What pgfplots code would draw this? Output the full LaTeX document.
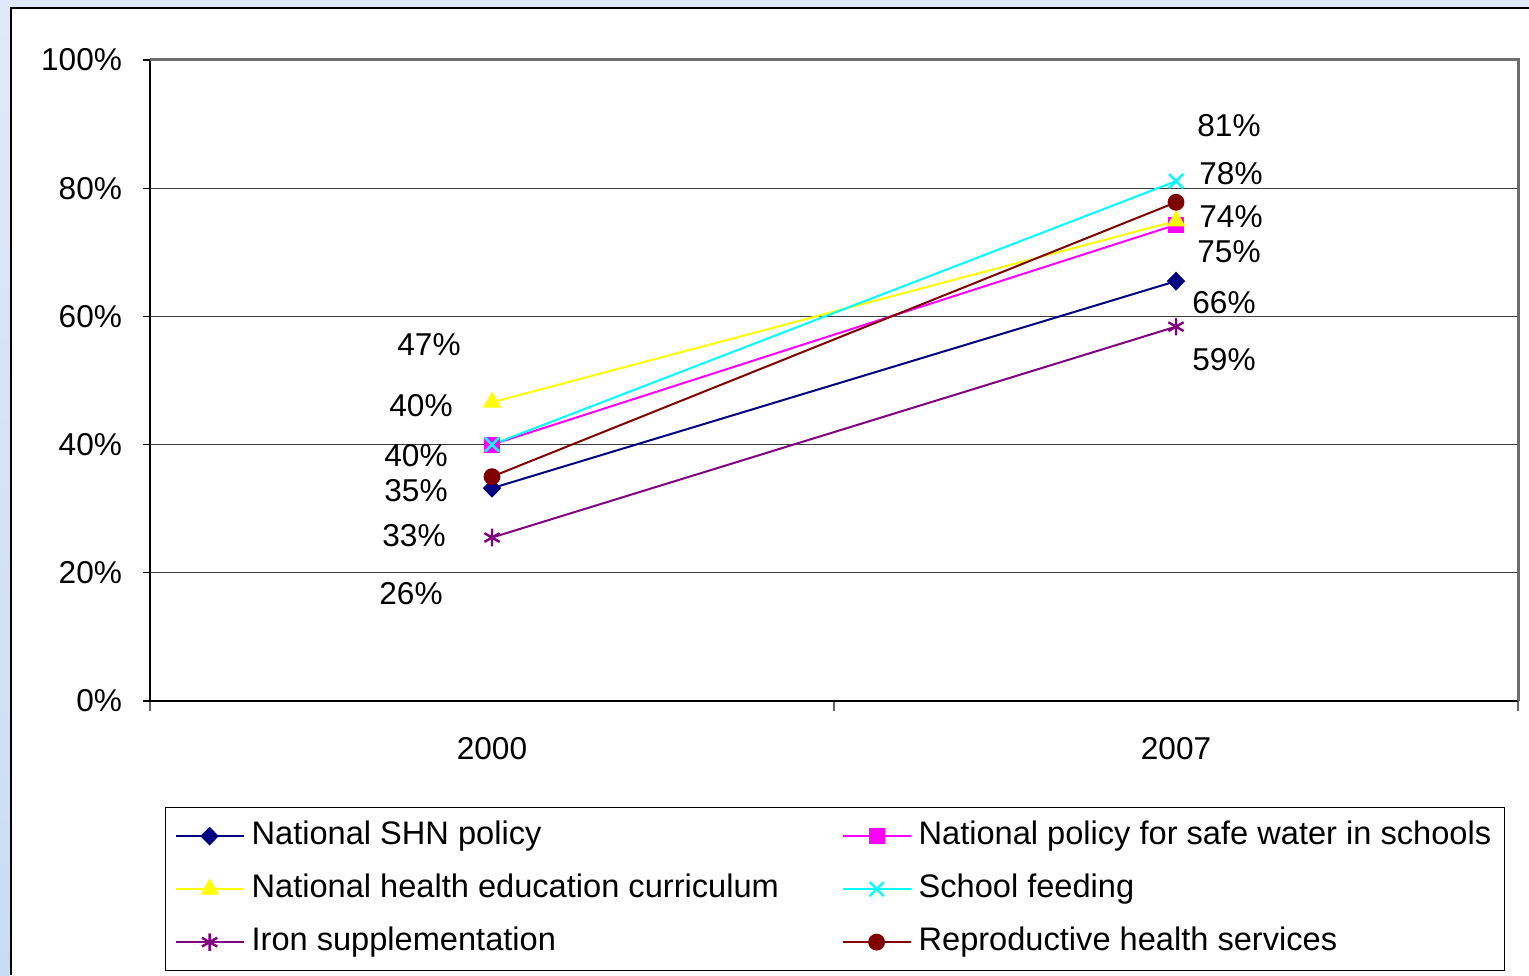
\documentclass[border=0pt]{standalone}
\usepackage{pgfplots}
\pgfplotsset{compat=1.18}
\usepackage{fontspec}
\setmainfont{Liberation Sans}
\definecolor{slidetop}{HTML}{DFE9F9}
\definecolor{slideleft}{HTML}{C9DCF6}
\definecolor{cnavy}{HTML}{000080}
\definecolor{cmag}{HTML}{FF00FF}
\definecolor{cyel}{HTML}{FFFF00}
\definecolor{ccyan}{HTML}{00FFFF}
\definecolor{cpurp}{HTML}{800080}
\definecolor{cdred}{HTML}{800000}
\newcommand{\lt}[1]{\hspace*{1.5pt}\makebox[293pt][l]{#1}}
\begin{document}
\begin{tikzpicture}
\fill[slidetop] (0,0) rectangle (764.5pt,487.5pt);
\shade[top color=slidetop, bottom color=slideleft] (0,0) rectangle (5pt,487.5pt);
\fill[white] (5pt,0) rectangle (764.5pt,484pt);
\draw[black, line width=1pt] (5.5pt,0) -- (5.5pt,483.7pt) -- (764.5pt,483.7pt);
\begin{axis}[
  at={(75pt,137pt)}, anchor=south west,
  scale only axis, width=684pt, height=320.5pt,
  xmin=-0.5, xmax=1.5, ymin=0, ymax=100,
  clip=false,
  axis x line*=bottom, axis y line*=left,
  axis line style={black, line width=0.8pt, -},
  xtick={0,1}, xticklabels={2000,2007},
  major x tick style={draw=none},
  minor xtick={-0.5,0.5,1.5},
  minor x tick style={gray!80!black, line width=0.8pt},
  minor tick length=5pt,
  ytick={0,20,40,60,80,100},
  yticklabels={0\%,20\%,40\%,60\%,80\%,100\%},
  tick align=outside, major tick length=3.5pt,
  ytick style={black, line width=0.6pt},
  ymajorgrids, major grid style={gray!50!black, line width=0.6pt},
  tick label style={font=\fontsize{15.8}{18}\selectfont},
  xticklabel style={yshift=-11pt},
  yticklabel style={xshift=-7pt},
  legend columns=2,
  legend cell align=left,
  legend style={at={(axis description cs:0.01096,-0.1654)}, anchor=north west,
    draw=black, line width=0.6pt, inner xsep=4.5pt, inner ysep=6.75pt,
    font=\fontsize{16.3}{18}\selectfont,
    nodes={inner xsep=2pt, inner ysep=0pt, text height=11.5pt, text depth=3.5pt},
    row sep=11.5pt, column sep=0pt},
  legend image code/.code={\draw[mark repeat=2,mark phase=2] plot coordinates {(0pt,0pt) (17pt,0pt) (34pt,0pt)};},
]
\addplot[cnavy, line width=1pt, mark=diamond*, mark size=4pt, mark options={solid, fill=cnavy, xscale=1.3}] coordinates {(0,33.2) (1,65.5)};
\addlegendentry{\lt{National SHN policy}}
\addplot[cmag, line width=1pt, mark=square*, mark size=3.5pt, mark options={solid, fill=cmag}] coordinates {(0,40) (1,74.3)};
\addlegendentry{\hspace*{1.5pt}National policy for safe water in schools}
\addplot[cyel, line width=1pt, mark=triangle*, mark size=4.4pt, mark options={solid, fill=cyel}] coordinates {(0,46.6) (1,74.9)};
\addlegendentry{\lt{National health education curriculum}}
\addplot[ccyan, line width=1pt, mark=x, mark size=5pt, mark options={solid, line width=1.2pt}] coordinates {(0,40) (1,81.1)};
\addlegendentry{\hspace*{1.5pt}School feeding}
\addplot[cpurp, line width=1pt, mark=asterisk, mark size=4.4pt, mark options={solid, line width=1.2pt}] coordinates {(0,25.5) (1,58.4)};
\addlegendentry{\lt{Iron supplementation}}
\addplot[cdred, line width=1pt, mark=*, mark size=3.7pt, mark options={solid, fill=cdred}] coordinates {(0,35) (1,77.8)};
\addlegendentry{\hspace*{1.5pt}Reproductive health services}
\draw[gray!85!black, line width=1.5pt] (rel axis cs:0,1) -- (rel axis cs:1,1) -- (rel axis cs:1,0);
\begin{scope}[every node/.style={font=\fontsize{15.8}{18}\selectfont, inner sep=0pt}]
\node at (axis cs:-0.0921,55.54) {47\%};
\node at (axis cs:-0.1038,46.02) {40\%};
\node at (axis cs:-0.1111,38.22) {40\%};
\node at (axis cs:-0.1111,32.76) {35\%};
\node at (axis cs:-0.1140,25.74) {33\%};
\node at (axis cs:-0.1184,16.69) {26\%};
\node at (axis cs:1.0775,89.70) {81\%};
\node at (axis cs:1.0804,82.22) {78\%};
\node at (axis cs:1.0804,75.51) {74\%};
\node at (axis cs:1.0775,70.05) {75\%};
\node at (axis cs:1.0702,62.09) {66\%};
\node at (axis cs:1.0702,53.20) {59\%};
\end{scope}
\end{axis}
\pgfresetboundingbox
\useasboundingbox (0,0) rectangle (764.5pt,487.5pt);
\end{tikzpicture}
\end{document}
